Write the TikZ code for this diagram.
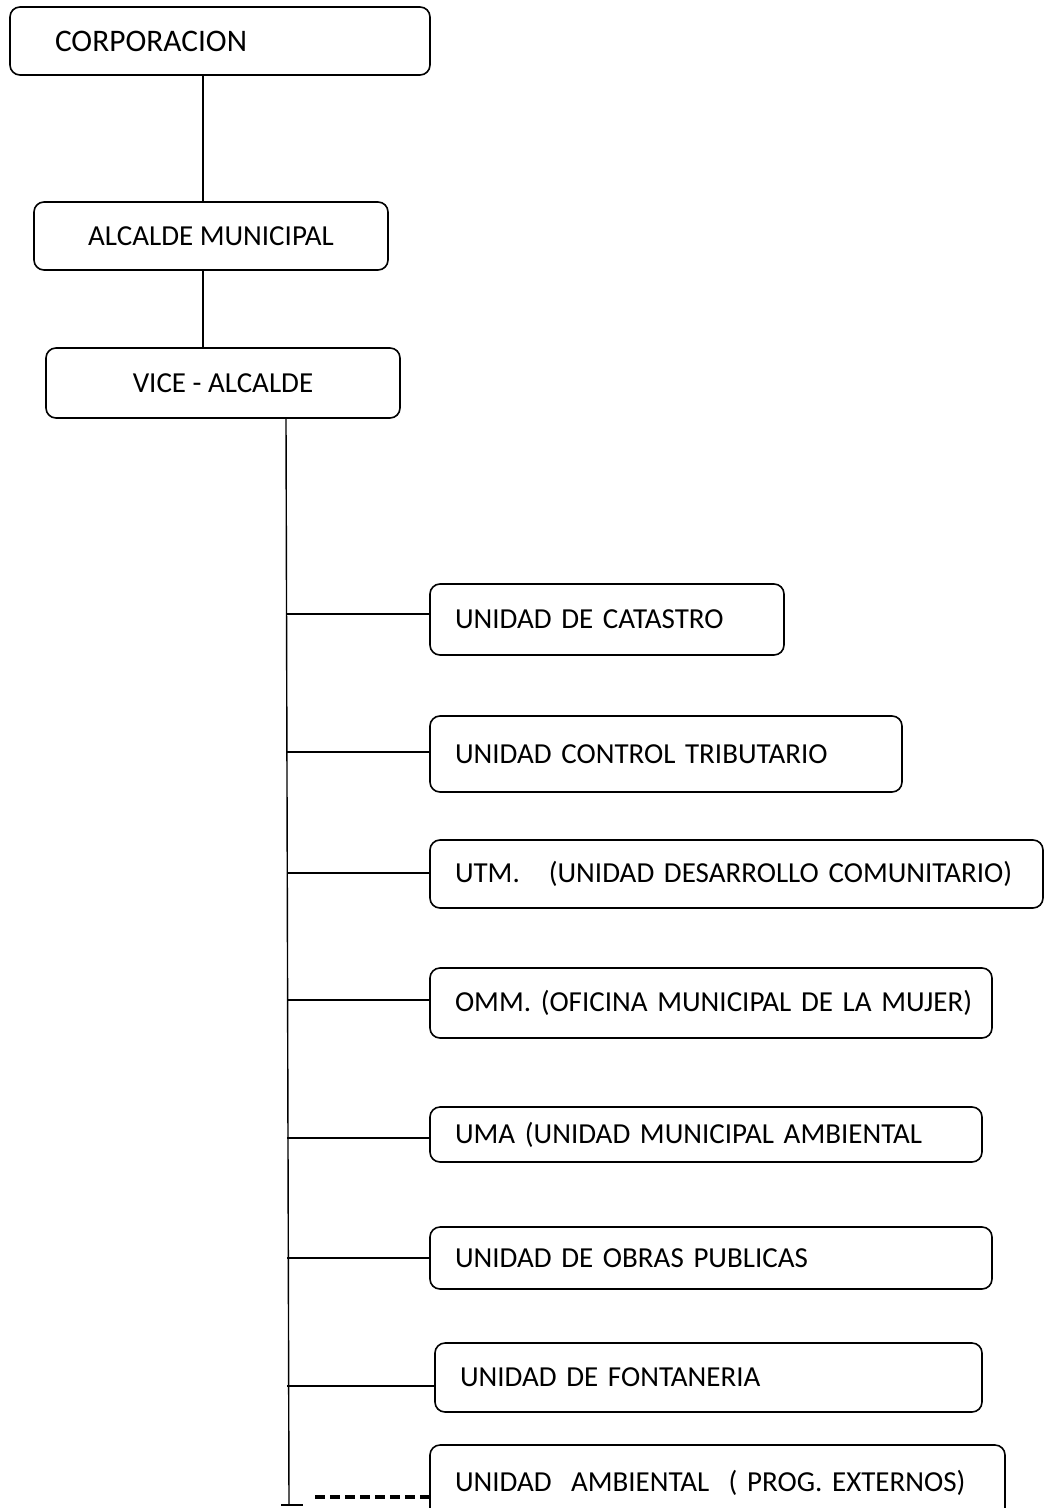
\documentclass[tikz,border=0pt]{standalone}
\usepackage{fontspec}
\setmainfont{Carlito}

\tikzset{
  box/.style={draw, rounded corners=5pt, line width=0.8pt, inner xsep=0pt, inner ysep=0pt,
    font=\fontsize{14.5}{17}\selectfont},
  link/.style={line width=0.7pt},
  dashlink/.style={line width=2pt, dash pattern=on 5pt off 2.5pt},
}

\begin{document}
\begin{tikzpicture}[x=0.5pt,y=-0.5pt]
    \newcommand{\scaling}{0.5}
    \useasboundingbox (0,0) rectangle (1044,1508);
    \clip (0,0) rectangle (1044,1508);

    % Top of the chart
    \node[box, align=left, minimum width=420*\scaling pt, minimum height=68*\scaling pt,
          text width=330*\scaling pt, font=\fontsize{15.7}{18}\selectfont] (corp) at (220,41) {CORPORACION};
    \node[box, align=center, minimum width=354*\scaling pt, minimum height=68*\scaling pt]
          (alcalde) at (211,236) {ALCALDE MUNICIPAL};
    \node[box, align=center, minimum width=354*\scaling pt, minimum height=70*\scaling pt]
          (vice) at (223,383) {VICE - ALCALDE};

    \coordinate (c1) at (203,0);
    \draw[link] (corp.south -| c1) -- (alcalde.north -| c1);
    \draw[link] (alcalde.south -| c1) -- (vice.north -| c1);

    % Trunk
    \coordinate (tt) at (286,0);
    \coordinate (tb) at (289,1505);
    \draw[link] (vice.south -| tt) -- (tb);
    \draw[link] ([xshift=-4pt]tb) -- ([xshift=7pt]tb);

    % Units
    \foreach \i/\xl/\yt/\xr/\yb/\ly/\txt in {
        1/430/584/784/655/614/UNIDAD DE CATASTRO,
        2/430/716/902/792/752/UNIDAD CONTROL TRIBUTARIO,
        3/430/840/1043/908/873/{UTM.\ \ \ (UNIDAD DESARROLLO COMUNITARIO)},
        4/430/968/992/1038/1000/{OMM. (OFICINA MUNICIPAL DE LA MUJER)},
        5/430/1107/982/1162/1138/{UMA (UNIDAD MUNICIPAL AMBIENTAL},
        6/430/1227/992/1289/1258/UNIDAD DE OBRAS PUBLICAS,
        7/435/1343/982/1412/1386/UNIDAD DE FONTANERIA,
        8/430/1445/1005/1520/1497/{UNIDAD\ \ AMBIENTAL\ \ ( PROG. EXTERNOS)}} {
        \pgfmathsetmacro{\bw}{(\xr-\xl)*\scaling}
        \pgfmathsetmacro{\bh}{(\yb-\yt)*\scaling}
        \pgfmathsetmacro{\tw}{(\xr-\xl-50)*\scaling}
        \node[box, align=left, minimum width=\bw pt, minimum height=\bh pt, text width=\tw pt]
            (u\i) at ({(\xl+\xr)/2},{(\yt+\yb)/2}) {\mbox{\txt}};
        \coordinate (t\i) at (287,\ly);
    }
    \foreach \i in {1,...,7} {
        \draw[link] (t\i) -- (t\i -| u\i.west);
    }
    \coordinate (d) at (315,1497);
    \draw[dashlink] (d) -- (d -| u8.west);
\end{tikzpicture}
\end{document}
